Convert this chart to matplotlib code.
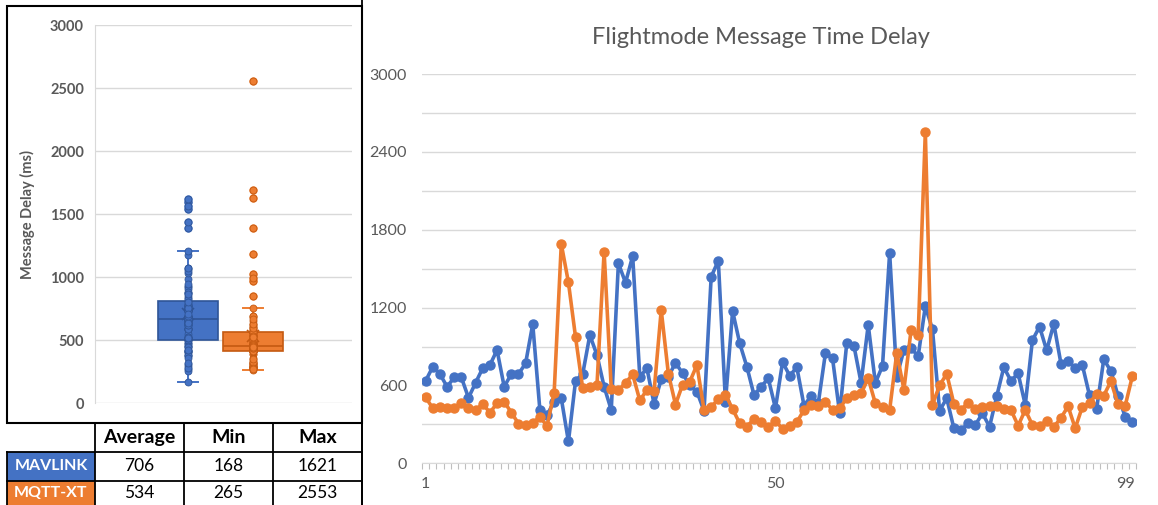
import numpy as np
import matplotlib.pyplot as plt
from matplotlib.patches import Rectangle
from matplotlib.lines import Line2D

plt.rcParams['font.family'] = ['Lato', 'DejaVu Sans']

# message delay per flightmode message (ms), 100 samples each
mavlink = [636, 744, 688, 590, 662, 662, 505, 621, 734, 757,
           873, 590, 688, 688, 770, 1073, 411, 372, 475, 501,
           168, 636, 688, 988, 834, 590, 411, 1541, 1392, 1597,
           667, 732, 457, 647, 667, 775, 693, 600, 552, 405,
           1438, 1561, 475, 1173, 924, 744, 526, 590, 655, 424,
           780, 675, 740, 445, 518, 462, 847, 809, 385, 930,
           905, 620, 1066, 620, 750, 1621, 668, 873, 886, 827,
           1210, 1032, 406, 501, 270, 257, 308, 295, 385, 282,
           517, 740, 635, 693, 450, 948, 1053, 870, 1075, 768,
           790, 732, 757, 524, 421, 801, 710, 520, 360, 321]
mqtt = [508, 424, 437, 424, 424, 462, 424, 411, 457, 391,
        462, 475, 391, 306, 295, 308, 359, 287, 544, 1690,
        1394, 971, 578, 590, 603, 1630, 575, 565, 618, 686,
        485, 565, 555, 1181, 690, 453, 607, 629, 757, 411,
        434, 494, 530, 418, 308, 282, 343, 321, 280, 328,
        265, 290, 317, 411, 452, 443, 475, 411, 424, 501,
        526, 539, 655, 462, 437, 411, 850, 568, 1026, 990,
        2553, 453, 600, 690, 458, 411, 468, 415, 436, 445,
        445, 418, 411, 290, 411, 295, 290, 325, 280, 350,
        439, 270, 436, 462, 536, 522, 632, 455, 443, 670]

series_names = ["MAVLINK", "MQTT-XT"]
table_cols = ["Average", "Min", "Max"]
table_vals = [[706, 168, 1621], [534, 265, 2553]]
x_labels = {1: "1", 50: "50", 99: "99"}

blue, orange = "#4472C4", "#ED7D31"
blue_dk, orange_dk = "#2F5597", "#C55A11"
grey_txt = "#595959"
grid_c = "#D9D9D9"

W, H = 1158, 505
fig = plt.figure(figsize=(W / 100, H / 100), dpi=100)


def px(x0, y0, x1, y1):
    # pixel box (top-left origin) -> figure fraction rect
    return [x0 / W, 1 - y1 / H, (x1 - x0) / W, (y1 - y0) / H]


# ---- left: box & whisker ----
ax1 = fig.add_axes(px(95, 25, 352, 403.3))
data = [mavlink, mqtt]
cols = [blue, orange]
dks = [blue_dk, orange_dk]
bp = ax1.boxplot(data, positions=[1, 2], widths=0.92, patch_artist=True,
                 showmeans=True, whis=1.5, capwidths=0.3)
for i in range(2):
    bp['boxes'][i].set(facecolor=cols[i], edgecolor=dks[i], linewidth=1.2)
    bp['medians'][i].set(color=dks[i], linewidth=1.2)
    for w in bp['whiskers'][2 * i:2 * i + 2]:
        w.set(color=cols[i], linewidth=1.4)
    for c in bp['caps'][2 * i:2 * i + 2]:
        c.set(color=cols[i], linewidth=1.4)
    bp['fliers'][i].set(marker='o', markerfacecolor=cols[i], markeredgecolor=cols[i],
                        markersize=5)
    bp['means'][i].set(marker='x', markeredgecolor=dks[i], markersize=9,
                       markeredgewidth=1.2)
    ax1.plot(np.full(len(data[i]), i + 1.0), data[i], 'o', ms=5,
             markerfacecolor=cols[i], markeredgecolor=dks[i], markeredgewidth=0.6,
             zorder=3)
ax1.set_xlim(-0.431, 3.523)
ax1.set_ylim(0, 3000)
ax1.set_yticks(range(0, 3001, 500))
ax1.set_xticks([])
ax1.yaxis.grid(True, color=grid_c, linewidth=1)
ax1.set_axisbelow(True)
ax1.tick_params(axis='y', length=0, pad=8, labelsize=10.5, labelcolor=grey_txt)
for t in ax1.get_yticklabels():
    t.set_fontweight('bold')
for s in ['top', 'right', 'bottom']:
    ax1.spines[s].set_visible(False)
ax1.spines['left'].set_color(grid_c)
fig.text(27 / W, 1 - 215 / H, "Message Delay (ms)", rotation=90, ha='center',
         va='center', fontsize=10.5, fontweight='bold', color=grey_txt)

# frame around box plot
fig.add_artist(Rectangle((7 / W, 1 - 423 / H), 355 / W, 417 / H, fill=False,
                         edgecolor='black', linewidth=1.5, transform=fig.transFigure))

# ---- summary table ----
col_x = [7, 95, 184, 273, 362]
row_y = [423, 452, 480.5, 505]
fills = [blue, orange]
for r in range(2):
    y0, y1 = row_y[r + 1], row_y[r + 2]
    fig.add_artist(Rectangle((col_x[0] / W, 1 - y1 / H), (col_x[1] - col_x[0]) / W,
                             (y1 - y0) / H, facecolor=fills[r], edgecolor='none',
                             transform=fig.transFigure))
    fig.text((col_x[0] + col_x[1]) / 2 / W, 1 - (y0 + y1) / 2 / H, series_names[r],
             ha='center', va='center', color='white', fontsize=11.5, fontweight='bold')
    for c in range(3):
        fig.text((col_x[c + 1] + col_x[c + 2]) / 2 / W, 1 - (y0 + y1) / 2 / H,
                 str(table_vals[r][c]), ha='center', va='center', color='black',
                 fontsize=12.5)
for c in range(3):
    fig.text((col_x[c + 1] + col_x[c + 2]) / 2 / W, 1 - (row_y[0] + row_y[1]) / 2 / H,
             table_cols[c], ha='center', va='center', color='black', fontsize=14,
             fontweight='bold')
lines = []
for yy in row_y[1:3]:
    lines.append(([col_x[0], col_x[-1]], [yy, yy]))
for xx in col_x[1:]:
    lines.append(([xx, xx], [row_y[0], H]))
lines.append(([col_x[0], col_x[0]], [row_y[1], H]))
lines.append(([362, 362], [0, H]))
for xs, ys in lines:
    fig.add_artist(Line2D([v / W for v in xs], [1 - v / H for v in ys],
                          color='black', linewidth=1.3, transform=fig.transFigure))

# ---- right: line chart ----
ax2 = fig.add_axes(px(422.1, 74, 1135.9, 463.3))
xs = np.arange(1, len(mavlink) + 1)
ax2.plot(xs, mavlink, '-o', color=blue, lw=2.6, ms=6.5, zorder=3)
ax2.plot(xs, mqtt, '-o', color=orange, lw=2.6, ms=6.5, zorder=4)
ax2.set_xlim(0.5, len(xs) + 0.5)
ax2.set_ylim(0, 3000)
ax2.set_yticks(range(0, 3001, 300))
ax2.set_yticklabels([str(v) if v % 600 == 0 else "" for v in range(0, 3001, 300)])
ax2.yaxis.grid(True, color=grid_c, linewidth=1)
ax2.set_axisbelow(True)
ax2.tick_params(axis='y', length=0, pad=11, labelsize=11.5, labelcolor=grey_txt)
ax2.set_xticks(list(x_labels.keys()))
ax2.set_xticklabels(list(x_labels.values()))
ax2.set_xticks(np.arange(0.5, len(xs) + 1, 1), minor=True)
ax2.tick_params(axis='x', which='major', length=0, pad=10, labelsize=11.5,
                labelcolor=grey_txt)
ax2.tick_params(axis='x', which='minor', length=4, width=0.8, color='#BFBFBF')
for s in ['top', 'right', 'left']:
    ax2.spines[s].set_visible(False)
ax2.spines['bottom'].set_color(grid_c)
fig.text(761 / W, 1 - 38 / H, "Flightmode Message Time Delay", ha='center',
         va='center', fontsize=17, color=grey_txt)

fig.savefig("out.png", dpi=100)
